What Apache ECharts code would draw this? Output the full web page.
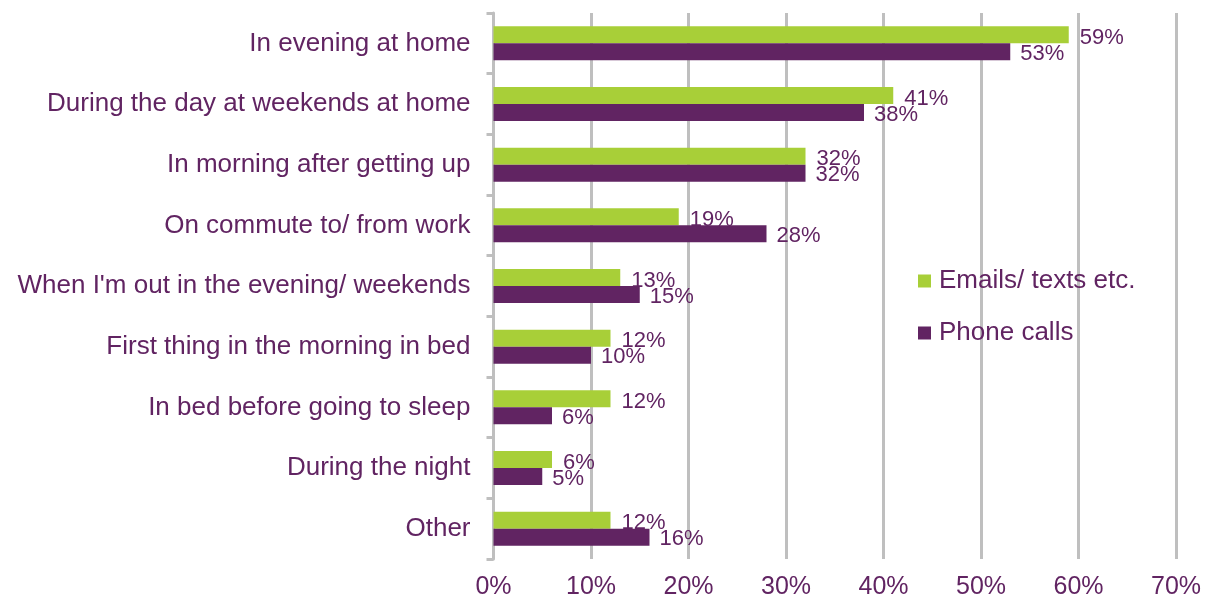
<!DOCTYPE html>
<html>
<head>
<meta charset="utf-8">
<script src="https://cdn.jsdelivr.net/npm/echarts@6/dist/echarts.min.js"></script>
<style>html,body{margin:0;padding:0;background:#fff}#c{width:1209px;height:604px}</style>
</head>
<body>
<div id="c"></div>
<script>
const categories = [
  "In evening at home",
  "During the day at weekends at home",
  "In morning after getting up",
  "On commute to/ from work",
  "When I'm out in the evening/ weekends",
  "First thing in the morning in bed",
  "In bed before going to sleep",
  "During the night",
  "Other"
];
const emailsTexts = [59, 41, 32, 19, 13, 12, 12, 6, 12];
const phoneCalls = [53, 38, 32, 28, 15, 10, 6, 5, 16];
const seriesNames = ["Emails/ texts etc.", "Phone calls"];

const purple = '#612462';
const green = '#a8cf38';
const grey = '#bfbfbf';
const font = 'Liberation Sans, Arial, sans-serif';

const chart = echarts.init(document.getElementById('c'));
chart.setOption({
  animation: false,
  textStyle: { fontFamily: font },
  grid: { left: 493.5, right: 33, top: 13, bottom: 45, containLabel: false },
  legend: {
    orient: 'vertical',
    left: 918,
    top: 268,
    padding: 0,
    itemWidth: 13,
    itemHeight: 13,
    itemGap: 26,
    icon: 'rect',
    textStyle: { color: purple, fontSize: 26, fontFamily: font, lineHeight: 26, padding: [0, 0, 0, 3] },
    data: seriesNames
  },
  xAxis: {
    type: 'value',
    min: 0, max: 70, interval: 10,
    axisLine: { show: false },
    axisTick: { show: false },
    axisLabel: { formatter: '{value}%', color: purple, fontSize: 25, fontFamily: font, margin: 16 },
    splitLine: { show: true, lineStyle: { color: grey, width: 3 } }
  },
  yAxis: {
    type: 'category',
    inverse: true,
    data: categories,
    axisLine: { show: true, lineStyle: { color: grey, width: 3 } },
    axisTick: { show: true, length: 7, lineStyle: { color: grey, width: 3 } },
    axisLabel: { color: purple, fontSize: 26, fontFamily: font, margin: 23, padding: [3, 0, 0, 0] }
  },
  series: [
    {
      name: seriesNames[0], type: 'bar', data: emailsTexts,
      barWidth: 17, barGap: '0%',
      itemStyle: { color: green },
      label: { show: true, position: 'right', distance: 11, offset: [0, 3], formatter: '{c}%', color: purple, fontSize: 22, fontFamily: font }
    },
    {
      name: seriesNames[1], type: 'bar', data: phoneCalls,
      barWidth: 17, barGap: '0%',
      itemStyle: { color: purple },
      label: { show: true, position: 'right', distance: 10, offset: [0, 2], formatter: '{c}%', color: purple, fontSize: 22, fontFamily: font }
    }
  ]
});
</script>
</body>
</html>
